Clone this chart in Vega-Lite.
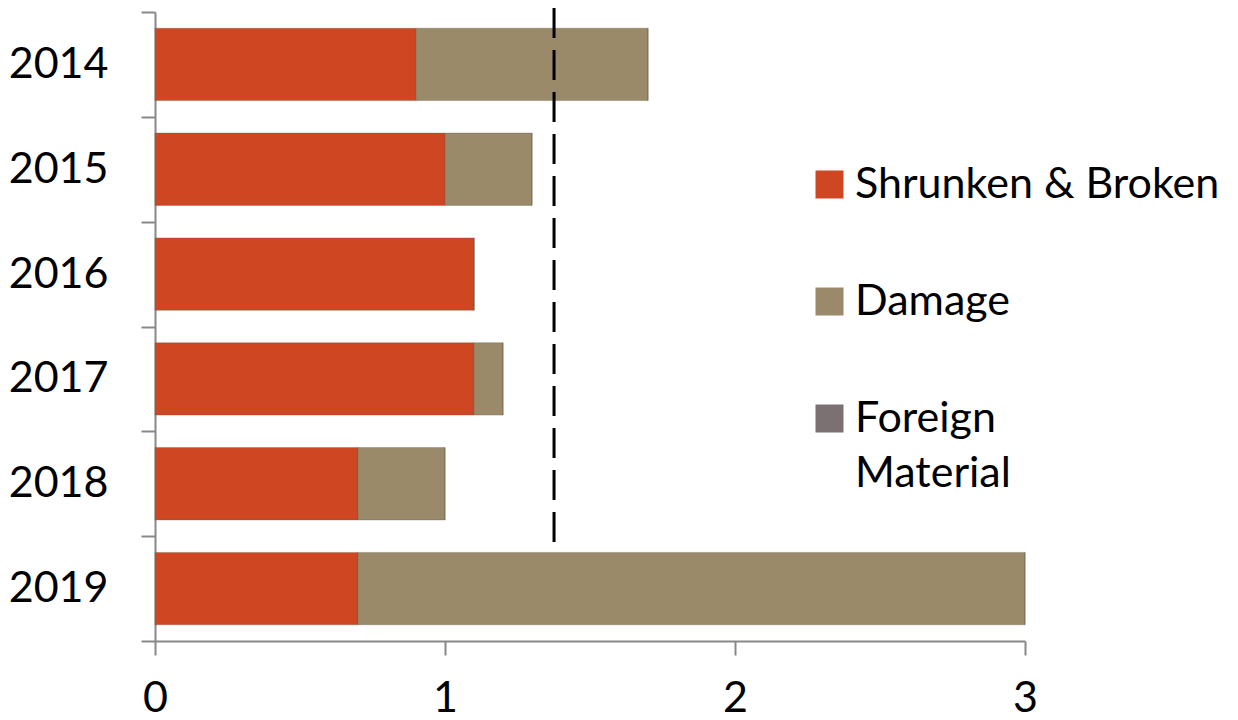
{
  "$schema": "https://vega.github.io/schema/vega-lite/v6.json",
  "autosize": "none",
  "width": 870,
  "height": 629,
  "padding": {"left": 155, "top": 12, "right": 213, "bottom": 79},
  "background": "white",
  "config": {
    "view": {"stroke": null},
    "font": "Lato",
    "style": {"guide-label": {"lineHeight": 55}},
    "axis": {"labelFont": "Lato", "labelFontSize": 43, "labelColor": "black", "domainColor": "#888888", "domainWidth": 2, "tickColor": "#888888", "tickWidth": 2, "tickSize": 14, "grid": false, "title": null}
  },
  "datasets": {
    "bars": [
      {"year": "2014", "category": "Shrunken & Broken", "value": 0.9, "k": 1},
      {"year": "2014", "category": "Damage", "value": 0.8, "k": 2},
      {"year": "2014", "category": "Foreign Material", "value": 0, "k": 3},
      {"year": "2015", "category": "Shrunken & Broken", "value": 1.0, "k": 1},
      {"year": "2015", "category": "Damage", "value": 0.3, "k": 2},
      {"year": "2015", "category": "Foreign Material", "value": 0, "k": 3},
      {"year": "2016", "category": "Shrunken & Broken", "value": 1.1, "k": 1},
      {"year": "2016", "category": "Damage", "value": 0, "k": 2},
      {"year": "2016", "category": "Foreign Material", "value": 0, "k": 3},
      {"year": "2017", "category": "Shrunken & Broken", "value": 1.1, "k": 1},
      {"year": "2017", "category": "Damage", "value": 0.1, "k": 2},
      {"year": "2017", "category": "Foreign Material", "value": 0, "k": 3},
      {"year": "2018", "category": "Shrunken & Broken", "value": 0.7, "k": 1},
      {"year": "2018", "category": "Damage", "value": 0.3, "k": 2},
      {"year": "2018", "category": "Foreign Material", "value": 0, "k": 3},
      {"year": "2019", "category": "Shrunken & Broken", "value": 0.7, "k": 1},
      {"year": "2019", "category": "Damage", "value": 2.3, "k": 2},
      {"year": "2019", "category": "Foreign Material", "value": 0, "k": 3}
    ],
    "ref": [
      {"avg": 1.376, "from": "2014", "to": "2019"}
    ]
  },
  "layer": [
    {
      "data": {"name": "bars"},
      "mark": {"type": "bar", "height": {"band": 0.69}, "stroke": "#6b5e4a", "strokeOpacity": 0.35, "strokeWidth": 1},
      "encoding": {
        "y": {"field": "year", "type": "nominal", "sort": ["2014", "2015", "2016", "2017", "2018", "2019"],
              "scale": {"paddingInner": 0, "paddingOuter": 0},
              "axis": {"tickBand": "extent", "labelPadding": 33, "labelBaseline": "middle"}},
        "x": {"field": "value", "type": "quantitative", "stack": "zero",
              "scale": {"domain": [0, 3], "nice": false},
              "axis": {"values": [0, 1, 2, 3], "labelPadding": 22, "labelFlush": false, "format": "d"}},
        "color": {"field": "category", "type": "nominal",
                  "scale": {"domain": ["Shrunken & Broken", "Damage", "Foreign Material"], "range": ["#cf4622", "#9a8a69", "#7b7072"]},
                  "legend": {"orient": "none", "legendX": 653, "legendY": 151, "title": null,
                             "symbolType": "square", "symbolSize": 784, "symbolStrokeWidth": 0,
                             "labelFont": "Lato", "labelFontSize": 43, "labelColor": "black", "labelOffset": 4,
                             "rowPadding": 73, "labelLimit": 500,
                             "labelExpr": "datum.label == 'Foreign Material' ? ['Foreign', 'Material'] : datum.label"}},
        "order": {"field": "k", "type": "quantitative"}
      }
    },
    {
      "data": {"name": "ref"},
      "mark": {"type": "rule", "color": "black", "strokeWidth": 3, "strokeDash": [30, 12], "yOffset": -4, "y2Offset": -39},
      "encoding": {
        "x": {"field": "avg", "type": "quantitative"},
        "y": {"field": "from", "type": "nominal", "bandPosition": 0},
        "y2": {"field": "to"}
      }
    }
  ]
}
